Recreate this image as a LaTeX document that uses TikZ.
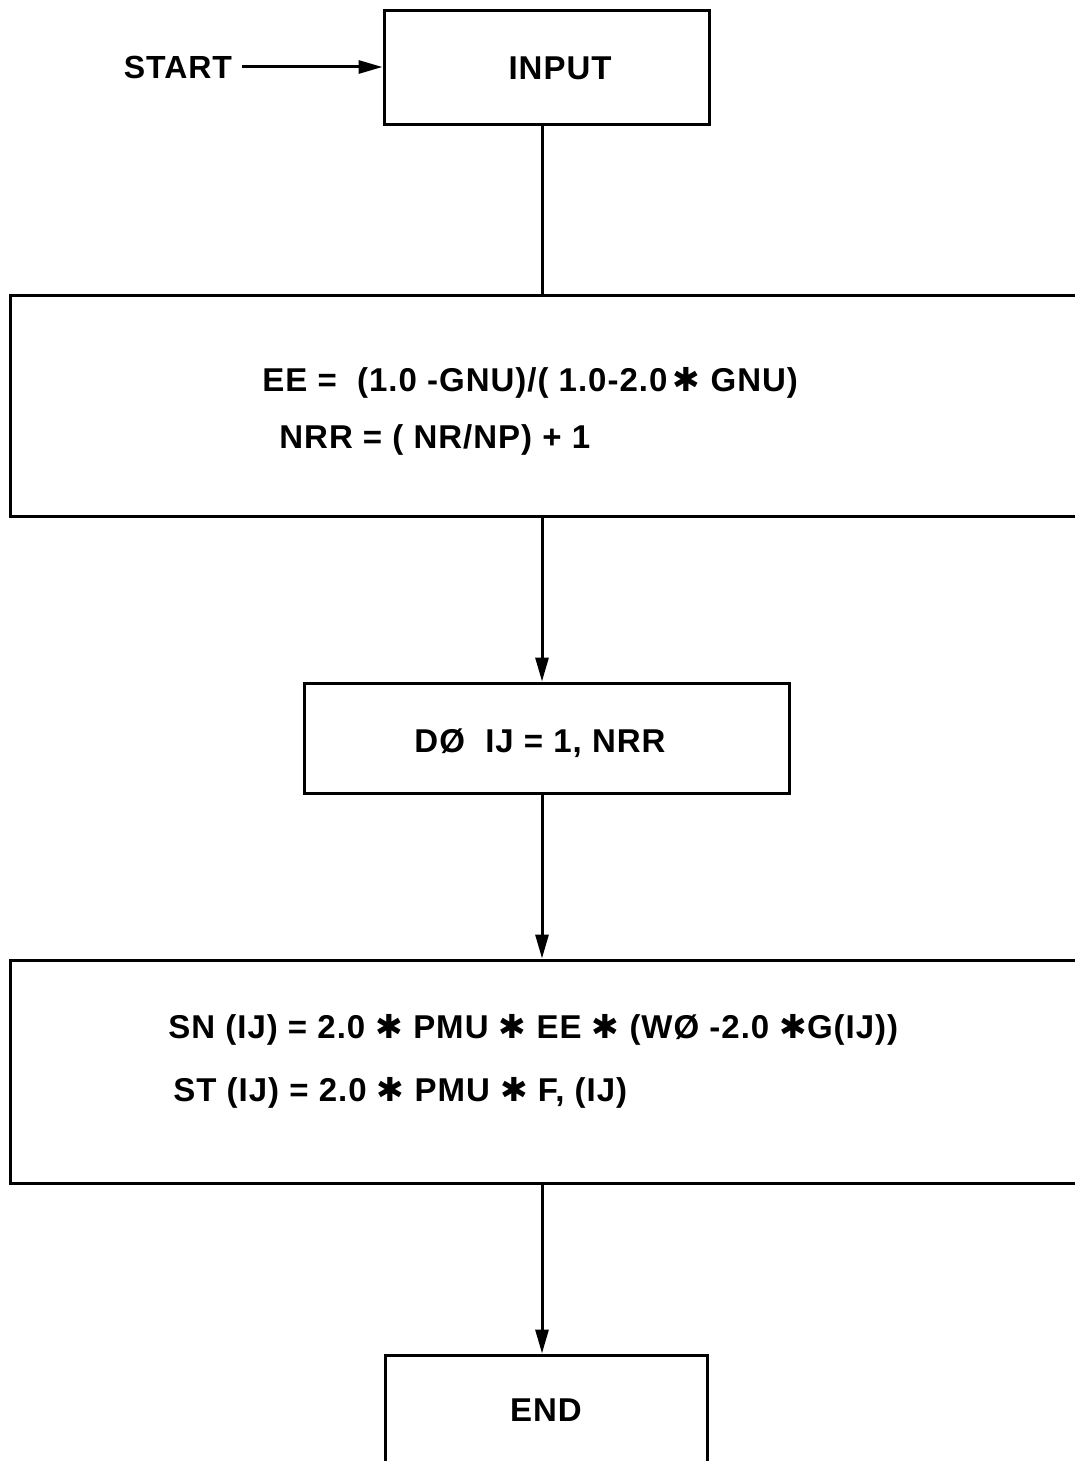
\documentclass[tikz,border=0pt]{standalone}
\usepackage{fontspec}
\setmainfont{Liberation Sans}[LetterSpace=3]
\newfontfamily\symfont{DejaVu Sans}
\usetikzlibrary{arrows.meta}
\newcommand{\hast}{{\symfont\bfseries ✱}}
\begin{document}
\begin{tikzpicture}[x=0.5pt,y=-0.5pt,
  every node/.style={font=\fontsize{16.5}{20}\selectfont\bfseries},
  box/.style={draw,line width=1.5pt,inner sep=0pt},
  lbl/.style={inner sep=0pt,anchor=west},
  conn/.style={line width=1.5pt},
  arr/.style={conn,-{Triangle[length=12pt,width=6.5pt]}}]
\useasboundingbox (0,0) rectangle (1075,1461);
\fill[white] (0,0) rectangle (1075,1461);
\coordinate (cx) at (542,0);
\node[box,minimum width=162.5pt,minimum height=57pt] (input) at (546.5,68) {};
\node[inner sep=0pt] (inputt) at (560,68) {INPUT};
\node[inner sep=0pt,font=\fontsize{16}{20}\selectfont\bfseries] (start) at (178,67) {START};
\node[box,minimum width=545pt,minimum height=110.5pt] (b2) at (555,405.5) {};
\node[lbl] (t2a) at (262,383) {EE = \ (1.0 -GNU)/( 1.0-2.0\,\hast\ GNU)};
\node[lbl] (t2b) at (279,440) {NRR = ( NR/NP) + 1};
\node[box,minimum width=242.5pt,minimum height=55pt] (b3) at (546.5,738) {};
\node[inner sep=0pt] (b3t) at (540,743) {D\O\ \ IJ = 1, NRR};
\node[box,minimum width=545pt,minimum height=111.5pt] (b4) at (555,1071.5) {};
\node[lbl] (t4a) at (168,1030) {SN (IJ) = 2.0 \hast\ PMU \hast\ EE \hast\ (W\O\ -2.0 \hast G(IJ))};
\node[lbl] (t4b) at (173,1093) {ST (IJ) = 2.0 \hast\ PMU \hast\ F, (IJ)};
\node[box,minimum width=161pt,minimum height=72.5pt] (endb) at (546,1427.5) {};
\node[inner sep=0pt] (endt) at (546,1410) {END};
\draw[arr] ([xshift=5pt]start.east) -- (input.west |- start.east);
\draw[conn] (input.south -| cx) -- (b2.north -| cx);
\draw[arr] (b2.south -| cx) -- (b3.north -| cx);
\draw[arr] (b3.south -| cx) -- (b4.north -| cx);
\draw[arr] (b4.south -| cx) -- (endb.north -| cx);
\end{tikzpicture}
\end{document}
